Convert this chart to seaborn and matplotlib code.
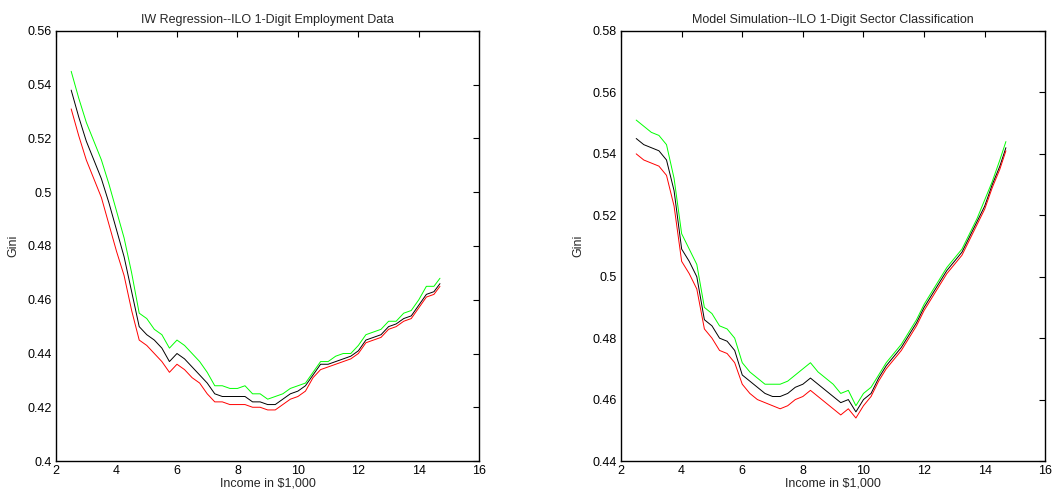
import numpy as np
import pandas as pd
import matplotlib
matplotlib.use("Agg")
import matplotlib.pyplot as plt
import seaborn as sns
from matplotlib.ticker import FuncFormatter, MultipleLocator

# shared income grid (in $1,000)
income = [2.5, 2.75, 3.0, 3.25, 3.5, 3.75, 4.0, 4.25, 4.5, 4.75, 5.0, 5.25, 5.5, 5.75,
          6.0, 6.25, 6.5, 6.75, 7.0, 7.25, 7.5, 7.75, 8.0, 8.25, 8.5, 8.75, 9.0, 9.25,
          9.5, 9.75, 10.0, 10.25, 10.5, 10.75, 11.0, 11.25, 11.5, 11.75, 12.0, 12.25,
          12.5, 12.75, 13.0, 13.25, 13.5, 13.75, 14.0, 14.25, 14.5, 14.7]

# left panel: IW regression
iw_upper = [0.545, 0.535, 0.526, 0.519, 0.512, 0.503, 0.493, 0.483, 0.470, 0.455, 0.453, 0.449,
            0.447, 0.442, 0.445, 0.443, 0.440, 0.437, 0.433, 0.428, 0.428, 0.427, 0.427, 0.428,
            0.425, 0.425, 0.423, 0.424, 0.425, 0.427, 0.428, 0.429, 0.433, 0.437, 0.437, 0.439,
            0.440, 0.440, 0.443, 0.447, 0.448, 0.449, 0.452, 0.452, 0.455, 0.456, 0.460, 0.465,
            0.465, 0.468]
iw_mean = [0.538, 0.528, 0.519, 0.512, 0.505, 0.496, 0.486, 0.476, 0.463, 0.450, 0.447, 0.445,
           0.442, 0.437, 0.440, 0.438, 0.435, 0.432, 0.429, 0.425, 0.424, 0.424, 0.424, 0.424,
           0.422, 0.422, 0.421, 0.421, 0.423, 0.425, 0.426, 0.428, 0.432, 0.436, 0.436, 0.437,
           0.438, 0.439, 0.441, 0.445, 0.446, 0.447, 0.450, 0.451, 0.453, 0.454, 0.458, 0.462,
           0.463, 0.466]
iw_lower = [0.531, 0.521, 0.512, 0.505, 0.498, 0.488, 0.478, 0.469, 0.456, 0.445, 0.443, 0.440,
            0.437, 0.433, 0.436, 0.434, 0.431, 0.429, 0.425, 0.422, 0.422, 0.421, 0.421, 0.421,
            0.420, 0.420, 0.419, 0.419, 0.421, 0.423, 0.424, 0.426, 0.431, 0.434, 0.435, 0.436,
            0.437, 0.438, 0.440, 0.444, 0.445, 0.446, 0.449, 0.450, 0.452, 0.453, 0.457, 0.461,
            0.462, 0.465]

# right panel: model simulation
sim_upper = [0.551, 0.549, 0.547, 0.546, 0.543, 0.532, 0.514, 0.509, 0.504, 0.490, 0.488, 0.484,
             0.483, 0.480, 0.472, 0.469, 0.467, 0.465, 0.465, 0.465, 0.466, 0.468, 0.470, 0.472,
             0.469, 0.467, 0.465, 0.462, 0.463, 0.458, 0.462, 0.464, 0.468, 0.472, 0.475, 0.478,
             0.482, 0.486, 0.491, 0.495, 0.499, 0.503, 0.506, 0.509, 0.514, 0.519, 0.525, 0.531,
             0.538, 0.544]
sim_mean = [0.545, 0.543, 0.542, 0.541, 0.538, 0.528, 0.509, 0.505, 0.500, 0.486, 0.484, 0.480,
            0.479, 0.476, 0.468, 0.466, 0.464, 0.462, 0.461, 0.461, 0.462, 0.464, 0.465, 0.467,
            0.465, 0.463, 0.461, 0.459, 0.460, 0.456, 0.460, 0.462, 0.467, 0.471, 0.474, 0.477,
            0.481, 0.485, 0.490, 0.494, 0.498, 0.502, 0.505, 0.508, 0.513, 0.518, 0.523, 0.530,
            0.536, 0.542]
sim_lower = [0.540, 0.538, 0.537, 0.536, 0.533, 0.523, 0.505, 0.501, 0.496, 0.483, 0.480, 0.476,
             0.475, 0.472, 0.465, 0.462, 0.460, 0.459, 0.458, 0.457, 0.458, 0.460, 0.461, 0.463,
             0.461, 0.459, 0.457, 0.455, 0.457, 0.454, 0.458, 0.461, 0.466, 0.470, 0.473, 0.476,
             0.480, 0.484, 0.489, 0.493, 0.497, 0.501, 0.504, 0.507, 0.512, 0.517, 0.522, 0.529,
             0.535, 0.541]

colors = {'upper': '#00ff00', 'mean': 'black', 'lower': '#ff0000'}

sns.set_style("white")
plt.rcParams['font.family'] = ['Liberation Sans', 'DejaVu Sans']


def to_long(upper, mean, lower):
    df = pd.DataFrame({'income': income, 'upper': upper, 'mean': mean, 'lower': lower})
    return df.melt(id_vars='income', var_name='band', value_name='Gini')


fig = plt.figure(figsize=(10.58, 4.92), dpi=100)
ax1 = fig.add_axes([0.053, 0.063, 0.400, 0.874])
ax2 = fig.add_axes([0.587, 0.063, 0.401, 0.874])

panels = [
    (ax1, to_long(iw_upper, iw_mean, iw_lower), 'IW Regression--ILO 1-Digit Employment Data', (0.4, 0.56)),
    (ax2, to_long(sim_upper, sim_mean, sim_lower), 'Model Simulation--ILO 1-Digit Sector Classification', (0.44, 0.58)),
]

for ax, df, title, ylim in panels:
    sns.lineplot(data=df, x='income', y='Gini', hue='band', palette=colors,
                 hue_order=['upper', 'mean', 'lower'], linewidth=0.7, ax=ax, legend=False)
    ax.set_xlim(2, 16)
    ax.set_ylim(*ylim)
    ax.xaxis.set_major_locator(MultipleLocator(2))
    ax.yaxis.set_major_locator(MultipleLocator(0.02))
    ax.yaxis.set_major_formatter(FuncFormatter(lambda v, p: '%g' % round(v, 2)))
    ax.tick_params(direction='in', length=4, width=0.8, top=True, right=True,
                   labelsize=9, pad=3, colors='black')
    for s in ax.spines.values():
        s.set_visible(True)
        s.set_color('black')
        s.set_linewidth(1.0)
    ax.set_title(title, fontsize=9, pad=6)
    ax.set_xlabel('Income in $1,000', fontsize=9, labelpad=0)
    ax.set_ylabel('Gini', fontsize=9, labelpad=6)

fig.savefig('out.png', dpi=100)
